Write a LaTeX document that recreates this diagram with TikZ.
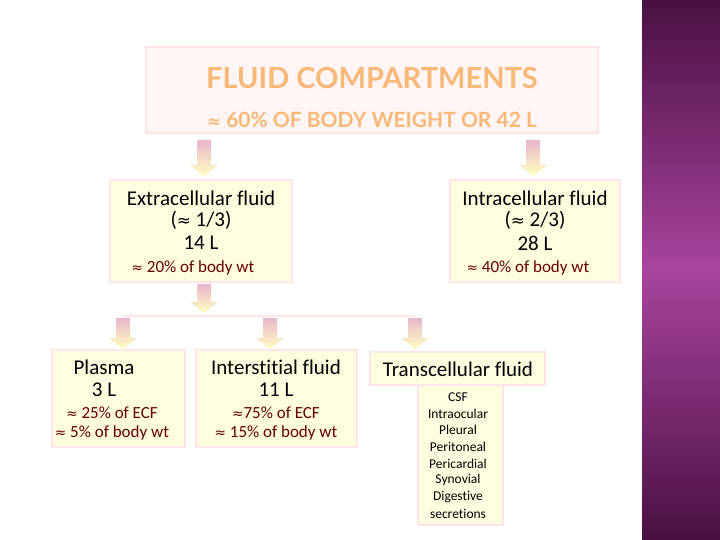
\documentclass[tikz,border=0pt]{standalone}
\usepackage{fontspec}
\setmainfont[Ligatures=NoCommon]{Carlito}
\newfontfamily\titlefont{Lato}
\newfontfamily\symfont[Scale=0.8]{DejaVu Sans}
\definecolor{pdark}{HTML}{4A1042}
\definecolor{pmid}{HTML}{A8449E}
\definecolor{ttlc}{HTML}{F8B878}
\begin{document}
\begin{tikzpicture}[x=1pt,y=-1pt,
  box/.style={draw=pink!40!white,line width=1.5pt,fill=yellow!12!white},
  tbox/.style={draw=pink!40!white,line width=1.5pt,fill=pink!15!white},
  txt/.style={font=\fontsize{21}{21}\selectfont,text=black},
  red/.style={font=\fontsize{17}{17}\selectfont,text=red!40!black},
  small/.style={font=\fontsize{13.5}{13.5}\selectfont,text=black},
  ttl/.style={font=\titlefont\fontsize{29}{29}\selectfont\bfseries,text=ttlc},
  ttl2/.style={font=\titlefont\fontsize{21}{21}\selectfont\bfseries,text=ttlc}]
\newcommand{\ap}{{\symfont ≈}}
\newcommand{\darrow}[3]{% x, ytop, ybottom
  \shade[top color=pink!70!violet!60!white,bottom color=yellow!25!white]
   (#1-7,#2) -- (#1+7,#2) -- (#1+7,#3-11) -- (#1+14,#3-11) -- (#1,#3) -- (#1-14,#3-11) -- (#1-7,#3-11) -- cycle;}
\useasboundingbox (0,0) rectangle (720,540);
\fill[white] (0,0) rectangle (720,540);
\shade[top color=pdark,bottom color=pdark,middle color=pmid] (642,0) rectangle (720,540);
% title
\draw[tbox] (146,47) rectangle (598,133);
\node[ttl] (t1) at (372,78) {FLUID COMPARTMENTS};
\node[ttl2] (t2) at (372,120) {{\symfont ≈} 60\% OF BODY WEIGHT OR 42 L};
\darrow{204}{140}{176}
\darrow{533}{140}{176}
% ECF/ICF
\draw[box] (110,180) rectangle (292,282);
\node[txt] (e1) at (201,198) {Extracellular fluid};
\node[txt] (e2) at (201,220) {(\ap{} 1/3)};
\node[txt] (e3) at (201,243) {14 L};
\node[red] (e4) at (193,268) {\ap{} 20\% of body wt};
\draw[box] (450,180) rectangle (620,282);
\node[txt] (i1) at (535,198) {Intracellular fluid};
\node[txt] (i2) at (535,220) {(\ap{} 2/3)};
\node[txt] (i3) at (535,243) {28 L};
\node[red] (i4) at (528,268) {\ap{} 40\% of body wt};
\darrow{204}{284}{313}
\draw[pink!40!white,line width=2pt] (123,316) -- (415,316);
\darrow{123}{318}{349}
\darrow{270}{318}{349}
\darrow{415}{318}{349}
% subboxes
\draw[box] (52,350) rectangle (185,447);
\node[txt] (p1) at (104,367) {Plasma};
\node[txt] (p2) at (104,390) {3 L};
\node[red] (p3) at (112,413) {\ap{} 25\% of ECF};
\node[red] (p4) at (112,433) {\ap{} 5\% of body wt};
\draw[box] (196,350) rectangle (357,447);
\node[txt] (s1) at (276,367) {Interstitial fluid};
\node[txt] (s2) at (276,390) {11 L};
\node[red] (s3) at (276,413) {\ap{}75\% of ECF};
\node[red] (s4) at (276,433) {\ap{} 15\% of body wt};
\draw[box] (418,385) rectangle (503,525);
\draw[box] (370,352) rectangle (545,385);
\node[txt] (c0) at (458,369) {Transcellular fluid};
\foreach \t [count=\i] in {CSF,Intraocular,Pleural,Peritoneal,Pericardial,Synovial,Digestive,secretions}
  \node[small] (c\i) at (458,380+16.7*\i) {\t};
\end{tikzpicture}
\end{document}
